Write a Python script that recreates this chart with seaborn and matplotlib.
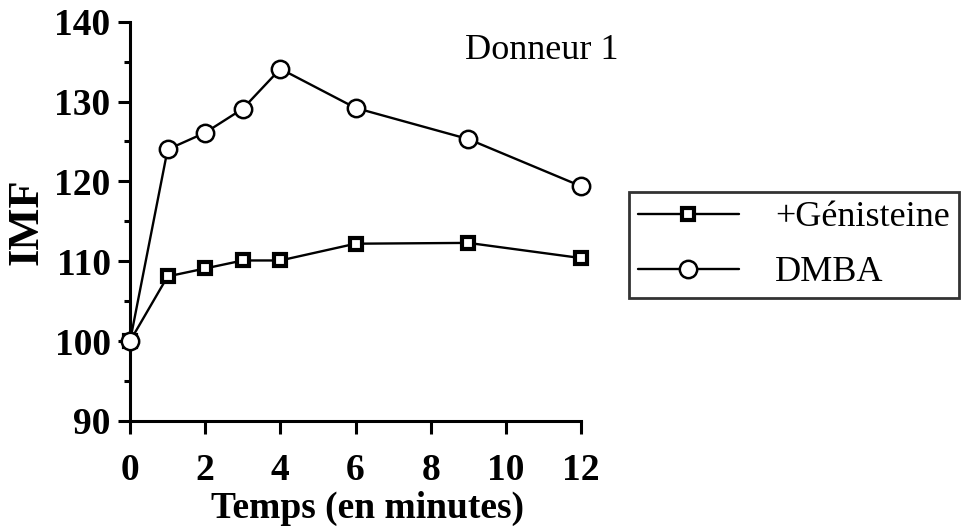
import pandas as pd
import matplotlib
matplotlib.use('Agg')
import matplotlib.pyplot as plt
import seaborn as sns

# données
temps = [0, 1, 2, 3, 4, 6, 9, 12]
genisteine = [100, 108.1, 109.1, 110.1, 110.1, 112.2, 112.3, 110.4]
dmba = [100, 124.0, 126.1, 129.1, 134.1, 129.2, 125.3, 119.4]
xticks = [0, 2, 4, 6, 8, 10, 12]
yticks = [90, 100, 110, 120, 130, 140]

df = pd.DataFrame({
    'Temps': temps * 2,
    'IMF': genisteine + dmba,
    'Groupe': ['+Génisteine'] * len(temps) + ['DMBA'] * len(temps),
})

sns.set_style('ticks')
plt.rcParams['font.family'] = ['Liberation Serif', 'DejaVu Serif']
for k in ['text.color', 'axes.labelcolor', 'xtick.color', 'ytick.color', 'axes.edgecolor']:
    plt.rcParams[k] = 'black'

fig = plt.figure(figsize=(9.69, 5.29), dpi=100)
ax = fig.add_axes([0.1342, 0.2042, 0.4654, 0.7548])

sns.lineplot(data=df[df['Groupe'] == '+Génisteine'], x='Temps', y='IMF', color='black',
             marker='s', markersize=8.5, markerfacecolor='white', markeredgecolor='black',
             markeredgewidth=3, linewidth=1.7, ax=ax, label='+Génisteine', legend=False,
             zorder=3, clip_on=False)
sns.lineplot(data=df[df['Groupe'] == 'DMBA'], x='Temps', y='IMF', color='black',
             marker='o', markersize=12.5, markerfacecolor='white', markeredgecolor='black',
             markeredgewidth=1.8, linewidth=1.7, ax=ax, label='DMBA', legend=False,
             zorder=4, clip_on=False)

ax.set_xlim(0, 12)
ax.set_ylim(90, 140)
ax.set_xticks(xticks, [str(t) for t in xticks], fontsize=27, fontweight='bold')
ax.set_yticks(yticks, [str(t) for t in yticks], fontsize=27, fontweight='bold')
ax.set_yticks([95, 105, 115, 125, 135], minor=True)
ax.tick_params(axis='both', which='major', direction='out', length=9, width=2.2)
ax.tick_params(axis='x', which='major', pad=14)
ax.tick_params(axis='y', which='major', pad=5)
ax.tick_params(axis='y', which='minor', direction='out', length=4, width=2.2)
sns.despine(ax=ax)
ax.spines['left'].set_linewidth(2.2)
ax.spines['bottom'].set_linewidth(2.2)

ax.set_xlabel('Temps (en minutes)', fontsize=27, fontweight='bold', labelpad=4)
ax.xaxis.set_label_coords(0.526, -0.176)
ax.set_ylabel('IMF', fontsize=32, fontweight='bold', labelpad=6)
ax.text(0.743, 0.927, 'Donneur 1', transform=ax.transAxes, fontsize=26, ha='left', va='center')

handles, labels = ax.get_legend_handles_labels()
leg = fig.legend(handles, labels, loc='upper left', bbox_to_anchor=(0.649, 0.637),
                 fontsize=26, handlelength=2.8, handletextpad=1.0, borderpad=0.25,
                 borderaxespad=0, labelspacing=0.6, frameon=True, fancybox=False,
                 edgecolor='black')
leg.get_frame().set_linewidth(2)

fig.savefig('out.png', dpi=100)
